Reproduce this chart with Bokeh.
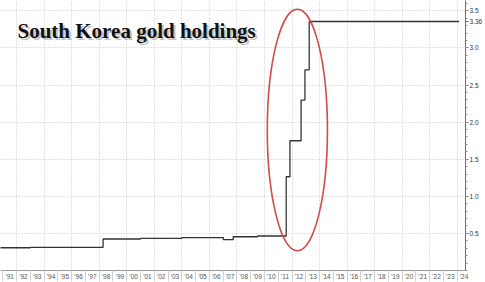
from bokeh.plotting import figure
from bokeh.models import Range1d, FixedTicker, Label
from bokeh.embed import file_html
from bokeh.resources import INLINE

# ---- data ----
years = list(range(1990, 2025))
year_labels = ["'" + str(y)[2:] for y in years]
grid_years = list(range(1992, 2025, 2))

dates = [1990.0, 1993.0, 1998.28, 2001.0, 2004.0, 2007.02, 2007.73, 2009.5,
         2011.58, 2011.85, 2012.66, 2012.94, 2013.25, 2024.14]
holdings = [0.307, 0.311, 0.425, 0.432, 0.442, 0.415, 0.455, 0.465,
            1.264, 1.749, 2.298, 2.706, 3.357, 3.357]

y_ticks = [0.5, 1.0, 1.5, 2.0, 2.5, 3.0, 3.5]
y_tick_labels = ["0.5", "1.0", "1.5", "2.0", "2.5", "3.0", "3.5"]
last_value = 3.357
last_value_label = "3.36"
title_text = "South Korea gold holdings"

# highlight ellipse (data units)
ell_x, ell_y, ell_w, ell_h = 2012.39, 1.894, 4.37, 3.26

x_start, x_end = 1990.83, 2024.6
y_start, y_end = 0.0, 3.64

p = figure(width=485, height=282, output_backend="svg", toolbar_location=None,
           x_range=Range1d(x_start, x_end), y_range=Range1d(y_start, y_end),
           x_axis_location="below", y_axis_location="right",
           min_border_left=0, min_border_top=0, min_border_right=9,
           min_border_bottom=12)
p.outline_line_color = None
p.background_fill_color = "white"
p.border_fill_color = "white"

# x axis: labels at mid-year, separators at year starts
p.xaxis.ticker = FixedTicker(ticks=[y + 0.5 for y in years], minor_ticks=years)
p.xaxis.major_label_overrides = {y + 0.5: lab for y, lab in zip(years, year_labels)}
p.xaxis.major_tick_out = 0
p.xaxis.major_tick_in = 0
p.xaxis.minor_tick_out = 11
p.xaxis.minor_tick_in = 0
p.xaxis.minor_tick_line_color = "#d0d0d0"
p.xaxis.axis_line_color = "#9a9a9a"
p.xaxis.major_label_text_font_size = "6.5px"
p.xaxis.major_label_text_color = "#555555"
p.xaxis.major_label_text_font = "Liberation Sans"
p.xaxis.major_label_standoff = -9

# y axis on the right; the last value is marked as an extra tick label
all_y_ticks = y_ticks + [last_value]
overrides = {t: s for t, s in zip(y_ticks, y_tick_labels)}
overrides[last_value] = last_value_label
p.yaxis.ticker = FixedTicker(ticks=all_y_ticks,
                             minor_ticks=[i / 10 for i in range(0, 37)])
p.yaxis.major_label_overrides = overrides
p.yaxis.major_label_text_font_size = "6.5px"
p.yaxis.major_label_text_color = "#333333"
p.yaxis.major_label_text_font = "Liberation Sans"
p.yaxis.major_label_standoff = 1
p.yaxis.major_tick_out = 3
p.yaxis.major_tick_in = 0
p.yaxis.minor_tick_out = 2
p.yaxis.minor_tick_in = 0
p.yaxis.axis_line_color = "#707070"
p.yaxis.major_tick_line_color = "#707070"
p.yaxis.minor_tick_line_color = "#909090"

# grids
p.xgrid.ticker = FixedTicker(ticks=grid_years)
p.ygrid.ticker = FixedTicker(ticks=y_ticks)
for g in (p.xgrid, p.ygrid):
    g.grid_line_color = "#c4c4c4"
    g.grid_line_dash = "1 2"
    g.grid_line_width = 1

# series
p.step(dates, holdings, mode="after", line_color="#333333", line_width=1.3)

# red ellipse
p.ellipse(x=[ell_x], y=[ell_y], width=[ell_w], height=[ell_h],
          fill_color=None, line_color="#d24a4a", line_width=1.6)

# title with shadow
p.add_layout(Label(x=19, y=238, x_units="screen", y_units="screen", text=title_text,
                   text_baseline="alphabetic",
                   text_font="Liberation Serif", text_font_style="bold",
                   text_font_size="21px", text_color="#9a9a9a", text_alpha=0.6))
p.add_layout(Label(x=17, y=240, x_units="screen", y_units="screen", text=title_text,
                   text_baseline="alphabetic",
                   text_font="Liberation Serif", text_font_style="bold",
                   text_font_size="21px", text_color="#111111"))

open("out.html", "w").write(file_html(p, INLINE))
